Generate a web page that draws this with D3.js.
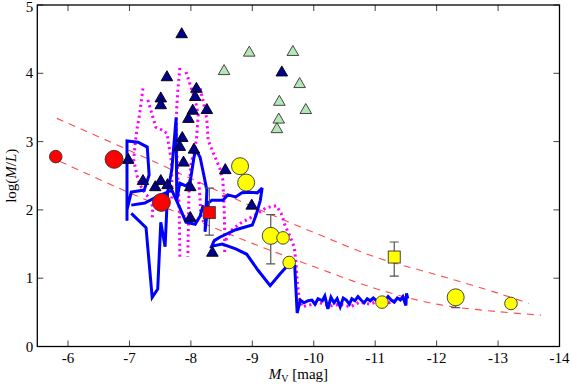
<!DOCTYPE html>
<html><head><meta charset="utf-8">
<script src="https://cdn.jsdelivr.net/npm/d3@7"></script>
<style>body{margin:0;background:#fff}svg{display:block}</style>
</head><body>
<svg id="c" width="572" height="385"></svg>
<script>
const xTicks = [-6,-7,-8,-9,-10,-11,-12,-13,-14];
const yTicks = [0,1,2,3,4,5];

// dark blue triangles [M_V, log(M/L)]
const triDark = [[-7.85,4.57],[-7.61,3.94],[-7.51,3.63],[-7.51,3.53],[-8.09,3.77],[-8.07,3.65],
 [-8.03,3.45],[-8.26,3.46],[-7.96,3.33],[-7.86,3.05],[-7.82,2.92],[-8.05,2.88],[-7.88,2.69],
 [-6.98,2.73],[-7.22,2.42],[-7.42,2.33],[-7.51,2.42],[-7.62,2.36],[-7.99,2.33],[-7.99,1.88],
 [-8.56,2.58],[-8.99,2.06],[-8.35,1.37],[-9.48,4.01]];
// light green triangles
const triGreen = [[-8.95,4.30],[-9.66,4.31],[-8.54,4.03],[-9.77,3.84],[-9.44,3.58],[-9.87,3.46],[-9.43,3.32],[-9.40,3.18]];
// red circles
const redSmall = [[-5.80,2.78]];
const redLarge = [[-6.75,2.74],[-7.52,2.11]];
// red square with error
const redSquare = [[-8.30,1.96]];
// yellow circles
const yellowLarge = [[-8.80,2.64],[-8.90,2.40],[-9.30,1.62],[-12.31,0.72]];
const yellowSmall = [[-9.50,1.59],[-9.60,1.23],[-11.11,0.65],[-13.21,0.63]];
const yellowSquare = [[-11.31,1.31]];
// error bars [M_V, low, high]
const errBars = [[-8.30,1.63,2.32],[-9.30,1.21,1.93],[-11.31,1.03,1.53],[-12.31,0.57,0.80]];

// dashed relations
const dashUpper = [[-5.82,3.34],[-7.0,2.87],[-8.0,2.46],[-9.0,2.05],[-10.0,1.67],[-11.0,1.31],[-12.0,1.05],[-13.0,0.78],[-13.5,0.63]];
const dashLower = [[-5.87,2.71],[-7.0,2.25],[-8.0,1.88],[-9.0,1.51],[-10.0,1.17],[-11.0,0.85],[-12.0,0.62],[-13.0,0.51],[-13.7,0.46]];

// blue tracks
const blueA = [[-6.96,1.84],[-6.96,3.01],[-7.14,2.99],[-7.29,2.92],[-7.32,2.51],[-7.24,2.29],[-7.03,2.26],[-6.96,2.00]];
const blueC = [[-7.03,2.07],[-7.25,2.10],[-7.46,2.20],[-7.69,2.29],[-7.82,2.03],[-7.92,1.82],[-8.07,1.79],[-8.15,1.91],[-8.20,2.07]];
const blueB = [[-7.03,1.95],[-7.27,1.74],[-7.37,0.72],[-7.46,0.84],[-7.51,1.82],[-7.58,1.46],[-7.62,2.25],[-7.69,2.59],
 [-7.76,3.35],[-7.77,2.14],[-7.82,2.39],[-7.92,2.35],[-7.99,2.42],[-8.05,2.77],[-8.08,2.88],[-8.15,2.77],[-8.21,2.51],
 [-8.26,2.29],[-8.23,1.68],[-8.28,2.10],[-8.34,2.14],[-8.52,2.14],[-8.60,2.22],[-8.73,2.19],[-8.83,2.25],[-8.96,2.26],
 [-9.08,2.25],[-9.16,2.32],[-9.13,2.14],[-9.06,1.92],[-9.00,1.78],[-8.73,1.71],[-8.47,1.60],[-8.38,1.55],[-8.34,1.47],
 [-8.51,1.50],[-8.73,1.43],[-8.91,1.35],[-9.09,1.12],[-9.29,0.89],[-9.45,1.06],[-9.61,1.22],[-9.69,1.18],[-9.73,0.49],
 [-9.78,0.68],[-9.84,0.64],[-9.91,0.67],[-9.97,0.68],[-10.02,0.62],[-10.07,0.70],[-10.14,0.67],[-10.18,0.74],[-10.23,0.55],
 [-10.28,0.72],[-10.33,0.64],[-10.38,0.70],[-10.43,0.58],[-10.48,0.71],[-10.53,0.68],[-10.58,0.62],[-10.62,0.70],
 [-10.67,0.67],[-10.72,0.73],[-10.77,0.68],[-10.82,0.64],[-10.87,0.70],[-10.92,0.67],[-10.97,0.71],[-11.01,0.68],
 [-11.06,0.65],[-11.11,0.70],[-11.16,0.67],[-11.21,0.73],[-11.26,0.68],[-11.31,0.65],[-11.36,0.71],[-11.41,0.68],
 [-11.45,0.73],[-11.50,0.60],[-11.51,0.78],[-11.53,0.70]];

// magenta dotted tracks
const magM1 = [[-7.22,3.78],[-7.19,3.57],[-7.16,3.37],[-7.12,3.17],[-7.09,2.95],[-7.07,2.73],[-7.12,2.51],[-7.17,2.37],[-7.25,2.25],[-7.35,2.14],[-7.38,2.03],[-7.37,1.88]];
const magM2 = [[-7.30,3.61],[-7.37,3.39],[-7.43,3.21],[-7.53,3.17],[-7.61,3.12],[-7.64,2.95],[-7.68,2.73],[-7.69,2.44],[-7.69,2.14]];
const magM3 = [[-7.82,4.08],[-7.79,3.78],[-7.77,3.51],[-7.76,3.24],[-7.77,2.88],[-7.79,2.44],[-7.81,2.00],[-7.82,1.31]];
const magM4 = [[-7.92,4.02],[-7.99,3.83],[-8.07,3.61],[-8.12,3.39],[-8.09,3.02],[-8.00,2.66],[-7.97,2.29],[-7.95,1.31]];
const magM5 = [[-8.15,3.78],[-8.21,3.55],[-8.26,3.32],[-8.28,3.02],[-8.38,2.80],[-8.47,2.61],[-8.52,2.44],[-8.54,2.07],[-8.55,1.71],[-8.55,1.38]];
const magM6 = [[-8.57,1.56],[-8.67,1.71],[-8.80,1.80],[-8.96,1.88],[-9.09,1.95],[-9.22,2.03],[-9.39,2.06],[-9.47,1.95],
 [-9.53,1.78],[-9.61,1.62],[-9.68,1.46],[-9.71,1.24],[-9.73,0.97],[-9.76,0.72],[-9.81,0.58],[-9.94,0.61],[-10.10,0.64],
 [-10.26,0.59],[-10.43,0.62],[-10.59,0.58],[-10.75,0.65],[-10.91,0.62],[-11.07,0.67],[-11.23,0.64],[-11.40,0.70],[-11.50,0.68]];
const magM7 = [[-8.13,2.41],[-8.15,2.14],[-8.16,1.93],[-8.23,1.78]];

const W = 572, H = 385;
const m = {l:37.3, r:12.5, t:5, b:38.5};
const svg = d3.select('#c');
const x = d3.scaleLinear().domain([-5.5,-14]).range([m.l, W-m.r]);
const y = d3.scaleLinear().domain([0,5]).range([H-m.b, m.t]);

const font = '"Liberation Serif","DejaVu Serif",serif';
svg.append('clipPath').attr('id','pc').append('rect')
  .attr('x',m.l).attr('y',m.t).attr('width',W-m.l-m.r).attr('height',H-m.t-m.b);
const plot = svg.append('g').attr('clip-path','url(#pc)');

const line = d3.line().x(d=>x(d[0])).y(d=>y(d[1]));
const smooth = d3.line().x(d=>x(d[0])).y(d=>y(d[1])).curve(d3.curveCatmullRom);

[dashUpper, dashLower].forEach(d => plot.append('path').attr('d', smooth(d))
  .attr('fill','none').attr('stroke','#ff4d4d').attr('stroke-width',1.1).attr('stroke-dasharray','7,6'));

[magM1,magM2,magM3,magM4,magM5,magM6,magM7].forEach(d => plot.append('path').attr('d', line(d))
  .attr('fill','none').attr('stroke','#ff00ff').attr('stroke-width',3).attr('stroke-dasharray','2.2,3.3'));

[blueA, blueC, blueB].forEach(d => plot.append('path').attr('d', line(d))
  .attr('fill','none').attr('stroke','#0000ff').attr('stroke-width',3).attr('stroke-linejoin','miter').attr('stroke-miterlimit',3));

// error bars
const eb = plot.append('g').attr('stroke','#555').attr('stroke-width',1.2);
errBars.forEach(d => {
  eb.append('line').attr('x1',x(d[0])).attr('x2',x(d[0])).attr('y1',y(d[1])).attr('y2',y(d[2]));
  [d[1],d[2]].forEach(v => eb.append('line').attr('x1',x(d[0])-4.5).attr('x2',x(d[0])+4.5).attr('y1',y(v)).attr('y2',y(v)));
});

const tri = d3.symbol().type(d3.symbolTriangle).size(58);
plot.selectAll('.tg').data(triGreen).join('path').attr('d',tri)
  .attr('transform',d=>`translate(${x(d[0])},${y(d[1])})`)
  .attr('fill','#b5e6b8').attr('stroke','#333').attr('stroke-width',0.9);
plot.selectAll('.td').data(triDark).join('path').attr('d',tri)
  .attr('transform',d=>`translate(${x(d[0])},${y(d[1])})`)
  .attr('fill','#00008b').attr('stroke','#000').attr('stroke-width',0.9);

function circles(data, r, fill){
  plot.append('g').selectAll('circle').data(data).join('circle')
    .attr('cx',d=>x(d[0])).attr('cy',d=>y(d[1])).attr('r',r)
    .attr('fill',fill).attr('stroke','#333').attr('stroke-width',0.9);
}
function squares(data, s, fill){
  plot.append('g').selectAll('rect').data(data).join('rect')
    .attr('x',d=>x(d[0])-s/2).attr('y',d=>y(d[1])-s/2).attr('width',s).attr('height',s)
    .attr('fill',fill).attr('stroke','#333').attr('stroke-width',0.9);
}
circles(redSmall, 6.3, '#ff0000');
circles(redLarge, 9, '#ff0000');
squares(redSquare, 12, '#ff0000');
circles(yellowLarge, 8.5, '#ffff00');
circles(yellowSmall, 6.3, '#ffff00');
squares(yellowSquare, 12, '#ffff00');

// frame and ticks
const x0 = m.l, x1 = W-m.r, y0 = H-m.b, y1 = m.t;
const tk = svg.append('g').attr('stroke','#444').attr('stroke-width',1);
xTicks.forEach(v => {
  tk.append('line').attr('x1',x(v)).attr('x2',x(v)).attr('y1',y0).attr('y2',y0-6);
  tk.append('line').attr('x1',x(v)).attr('x2',x(v)).attr('y1',y1).attr('y2',y1+6);
});
yTicks.forEach(v => {
  tk.append('line').attr('x1',x0).attr('x2',x0+6).attr('y1',y(v)).attr('y2',y(v));
  tk.append('line').attr('x1',x1).attr('x2',x1-6).attr('y1',y(v)).attr('y2',y(v));
});
svg.append('rect').attr('x',x0).attr('y',y1).attr('width',x1-x0).attr('height',y0-y1)
  .attr('fill','none').attr('stroke','#000').attr('stroke-width',1.3);

const lab = svg.append('g').attr('font-family',font).attr('font-size',15).attr('fill','#000');
xTicks.forEach(v => lab.append('text').attr('x',x(v)).attr('y',y0+16).attr('text-anchor','middle').text(v));
yTicks.forEach(v => lab.append('text').attr('x',x0-4).attr('y',Math.max(y(v)+5, 12)).attr('text-anchor','end').text(v));

const xl = lab.append('text').attr('x',(x0+x1)/2).attr('y',379).attr('text-anchor','middle');
xl.append('tspan').attr('font-style','italic').text('M');
xl.append('tspan').attr('font-size',10).attr('dy',3).text('V');
xl.append('tspan').attr('dy',-3).text(' [mag]');

const yl = lab.append('text').attr('transform',`translate(16,${(y0+y1)/2}) rotate(-90)`).attr('text-anchor','middle');
yl.append('tspan').text('log(');
yl.append('tspan').attr('font-style','italic').text('M');
yl.append('tspan').text('/');
yl.append('tspan').attr('font-style','italic').text('L');
yl.append('tspan').text(')');
</script>
</body></html>
